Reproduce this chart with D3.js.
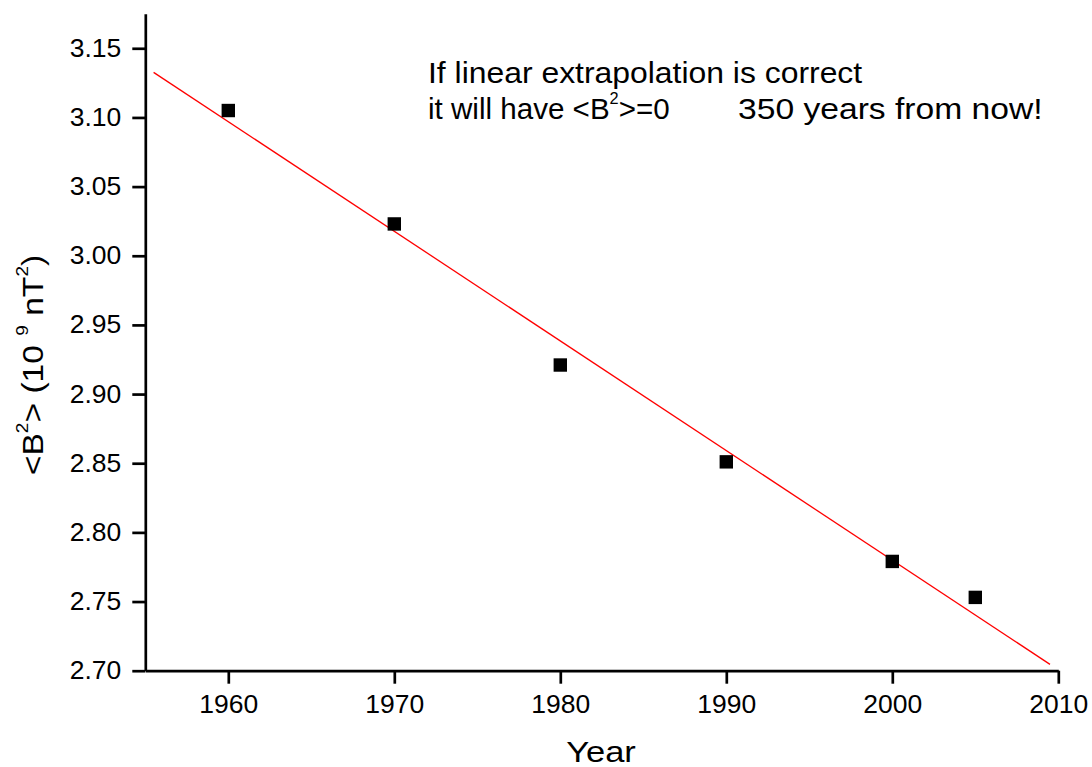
<!DOCTYPE html>
<html>
<head>
<meta charset="utf-8">
<script src="https://cdn.jsdelivr.net/npm/d3@7"></script>
<style>
  html, body { margin: 0; padding: 0; background: #fff; }
  svg text { font-family: "Liberation Sans", Arial, sans-serif; fill: #000; }
</style>
</head>
<body>
<svg id="chart" width="1092" height="767"></svg>
<script>
// ---- data ----
const years = [1960, 1970, 1980, 1990, 2000, 2005];
const b2Values = [3.105, 3.023, 2.921, 2.851, 2.779, 2.753];
const fitYears = [1955.5, 2009.5];
const fitValues = [3.1326, 2.7046];
const xTicks = [1960, 1970, 1980, 1990, 2000, 2010];
const xMinorTicks = [1955, 1965, 1975, 1985, 1995, 2005];
const yTicks = [2.70, 2.75, 2.80, 2.85, 2.90, 2.95, 3.00, 3.05, 3.10, 3.15];
const yMinorTicks = [2.725, 2.775, 2.825, 2.875, 2.925, 2.975, 3.025, 3.075, 3.125, 3.175];
const annotationLine1 = "If linear extrapolation is correct";
const annotationLine2a = ["it will have <B", "2", ">=0"];
const annotationLine2b = "350 years from now!";

// ---- layout ----
const svg = d3.select("#chart");
const x = d3.scaleLinear().domain([1955, 2010]).range([145.3, 1058.3]);
const y = d3.scaleLinear().domain([2.70, 3.175]).range([670.7, 13.7]);
const axisColor = "#000";
const tickFont = 25;
const tickSx = 1.06;

// X axis
const gx = svg.append("g").attr("transform", `translate(0,${y(2.70)})`);
gx.call(d3.axisBottom(x).tickValues(xMinorTicks).tickSize(7).tickSizeOuter(0).tickFormat(""));
gx.call(d3.axisBottom(x).tickValues(xTicks).tickSize(13).tickSizeOuter(0).tickPadding(12).tickFormat(d3.format("d")));
gx.selectAll("text").attr("font-size", tickFont).attr("transform", `scale(${tickSx},1)`);
gx.selectAll("path.domain").attr("stroke", axisColor).attr("stroke-width", 2.7);
gx.selectAll("line").attr("stroke", axisColor).attr("stroke-width", 2.7);

// Y axis
const gy = svg.append("g").attr("transform", `translate(${x(1955)},0)`);
gy.call(d3.axisLeft(y).tickValues(yMinorTicks).tickSize(7).tickSizeOuter(0).tickFormat(""));
gy.call(d3.axisLeft(y).tickValues(yTicks).tickSize(13).tickSizeOuter(0).tickPadding(11).tickFormat(d3.format(".2f")));
gy.selectAll("text")
  .attr("font-size", tickFont)
  .attr("x", -24 / tickSx)
  .attr("transform", `scale(${tickSx},1)`);
gy.selectAll("path.domain").attr("stroke", axisColor).attr("stroke-width", 2.7);
gy.selectAll("line").attr("stroke", axisColor).attr("stroke-width", 2.7);

// fit line
svg.append("path")
  .datum(fitYears.map((yr, i) => [yr, fitValues[i]]))
  .attr("fill", "none")
  .attr("stroke", "#ff0000")
  .attr("stroke-width", 1.3)
  .attr("d", d3.line().x(d => x(d[0])).y(d => y(d[1])));

// data squares
const sq = 13.4;
svg.append("g").selectAll("rect")
  .data(years.map((yr, i) => [yr, b2Values[i]]))
  .join("rect")
  .attr("x", d => x(d[0]) - sq / 2)
  .attr("y", d => y(d[1]) - sq / 2)
  .attr("width", sq)
  .attr("height", sq)
  .attr("fill", "#000");

// axis titles
svg.append("text")
  .attr("transform", "translate(601,762) scale(1.15,1)")
  .attr("text-anchor", "middle")
  .attr("font-size", 30)
  .text("Year");

const yl = svg.append("text")
  .attr("transform", "translate(43,365) rotate(-90) scale(1.12,1)")
  .attr("text-anchor", "middle")
  .attr("font-size", 30);
yl.append("tspan").text("<B");
yl.append("tspan").attr("font-size", 17).attr("dy", -15).text("2");
yl.append("tspan").attr("dy", 15).text(">  (10 ");
yl.append("tspan").attr("font-size", 17).attr("dy", -15).text("9");
yl.append("tspan").attr("dy", 15).text(" nT");
yl.append("tspan").attr("font-size", 17).attr("dy", -15).text("2");
yl.append("tspan").attr("dy", 15).text(")");

// annotation
const annFont = 29;
svg.append("text")
  .attr("transform", "translate(428,83) scale(1.1,1)")
  .attr("font-size", annFont)
  .text(annotationLine1);
const a2 = svg.append("text")
  .attr("transform", "translate(428,119) scale(1.02,1)")
  .attr("font-size", annFont);
a2.append("tspan").text(annotationLine2a[0]);
a2.append("tspan").attr("font-size", 16).attr("dy", -15).text(annotationLine2a[1]);
a2.append("tspan").attr("dy", 15).text(annotationLine2a[2]);
svg.append("text")
  .attr("transform", "translate(738,119) scale(1.16,1)")
  .attr("font-size", annFont)
  .text(annotationLine2b);
</script>
</body>
</html>
